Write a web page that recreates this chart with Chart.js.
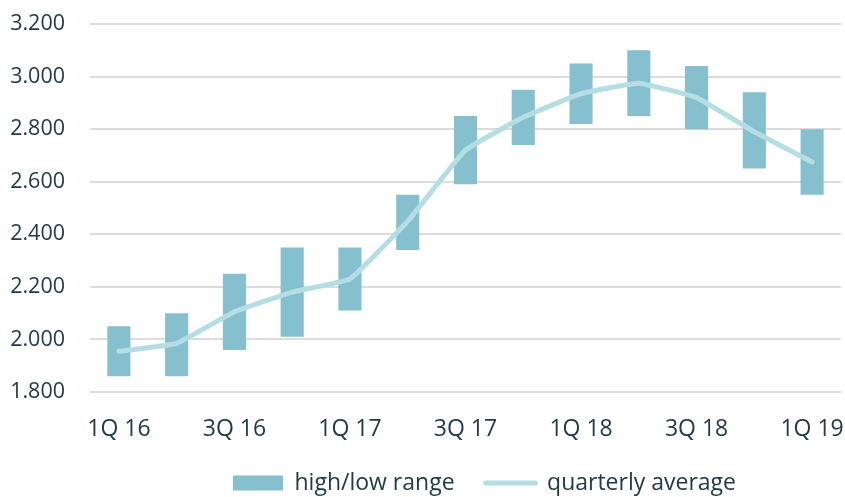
<!DOCTYPE html>
<html>
<head>
<meta charset="utf-8">
<script src="https://cdn.jsdelivr.net/npm/chart.js@4"></script>
<style>
  html, body { margin: 0; padding: 0; background: #fff; }
  #wrap { width: 845px; height: 497px; }
</style>
</head>
<body>
<div id="wrap"><canvas id="chart"></canvas></div>
<script>
// quarters 1Q 16 .. 1Q 19
var quarters = ['1Q 16', '2Q 16', '3Q 16', '4Q 16', '1Q 17', '2Q 17', '3Q 17',
                '4Q 17', '1Q 18', '2Q 18', '3Q 18', '4Q 18', '1Q 19'];
var lows  = [1860, 1860, 1960, 2010, 2110, 2340, 2590, 2740, 2820, 2850, 2800, 2650, 2550];
var highs = [2050, 2100, 2250, 2350, 2350, 2550, 2850, 2950, 3050, 3100, 3040, 2940, 2800];
var averages = [1955, 1985, 2105, 2180, 2230, 2450, 2720, 2845, 2935, 2975, 2920, 2790, 2675];
var yTicks = [1800, 2000, 2200, 2400, 2600, 2800, 3000, 3200];

var textColor = '#203c47';
var family = '"Open Sans", sans-serif';

function thousands(v) {
    return String(v).replace(/\B(?=(\d{3})+(?!\d))/g, '.');
}

var ranges = quarters.map(function (q, i) { return [lows[i], highs[i]]; });

// legend sits a bit right of the plot centre, like the original
var legendNudge = {
    id: 'legendNudge',
    afterLayout: function (chart) {
        if (chart.legend) chart.legend.left += 38;
    }
};

new Chart(document.getElementById('chart'), {
    type: 'bar',
    data: {
        labels: quarters,
        datasets: [{
            label: 'high/low range',
            data: ranges,
            backgroundColor: '#86c0cf',
            borderWidth: 0,
            barPercentage: 0.4,
            categoryPercentage: 1,
            order: 1
        }, {
            type: 'line',
            label: 'quarterly average',
            data: averages,
            borderColor: '#b5dde4',
            backgroundColor: '#b5dde4',
            borderWidth: 5,
            borderCapStyle: 'round',
            borderJoinStyle: 'round',
            pointRadius: 0,
            tension: 0.1,
            order: 0
        }]
    },
    plugins: [legendNudge],
    options: {
        responsive: true,
        maintainAspectRatio: false,
        animation: false,
        layout: { padding: { top: 24, right: 4, left: 0, bottom: 0 } },
        plugins: {
            legend: {
                position: 'bottom',
                fullSize: false,
                maxHeight: 56.5,
                labels: {
                    color: textColor,
                    font: { family: family, size: 23 },
                    usePointStyle: true,
                    pointStyleWidth: 50,
                    boxHeight: 15,
                    padding: 31,
                    sort: function (a, b) { return a.datasetIndex - b.datasetIndex; },
                    generateLabels: function (chart) {
                        var items = Chart.defaults.plugins.legend.labels.generateLabels(chart);
                        items.forEach(function (it) {
                            if (it.datasetIndex === 0) {
                                it.pointStyle = 'rect';
                                it.lineWidth = 0;
                            } else {
                                it.pointStyle = 'line';
                                it.lineWidth = 5;
                                it.lineCap = 'round';
                            }
                        });
                        return items;
                    }
                }
            },
            tooltip: { enabled: false }
        },
        scales: {
            x: {
                grid: { display: false },
                border: { display: false },
                ticks: {
                    color: textColor,
                    font: { family: family, size: 23 },
                    padding: 16,
                    autoSkip: false,
                    maxRotation: 0,
                    callback: function (v, i) { return i % 2 === 0 ? quarters[i] : ''; }
                },
                afterFit: function (scale) {
                    scale.height = 48.5;
                    scale.paddingLeft = 0;
                    scale.paddingRight = 0;
                }
            },
            y: {
                min: yTicks[0],
                max: yTicks[yTicks.length - 1],
                border: { display: false },
                grid: { color: '#dcdcdc', lineWidth: 2, drawTicks: false },
                ticks: {
                    color: textColor,
                    font: { family: family, size: 21.5 },
                    stepSize: 200,
                    padding: 25,
                    callback: function (v) { return thousands(v); }
                },
                afterFit: function (scale) {
                    scale.width = 90;
                    scale.paddingTop = 0;
                    scale.paddingBottom = 0;
                }
            }
        }
    }
});
</script>
</body>
</html>
